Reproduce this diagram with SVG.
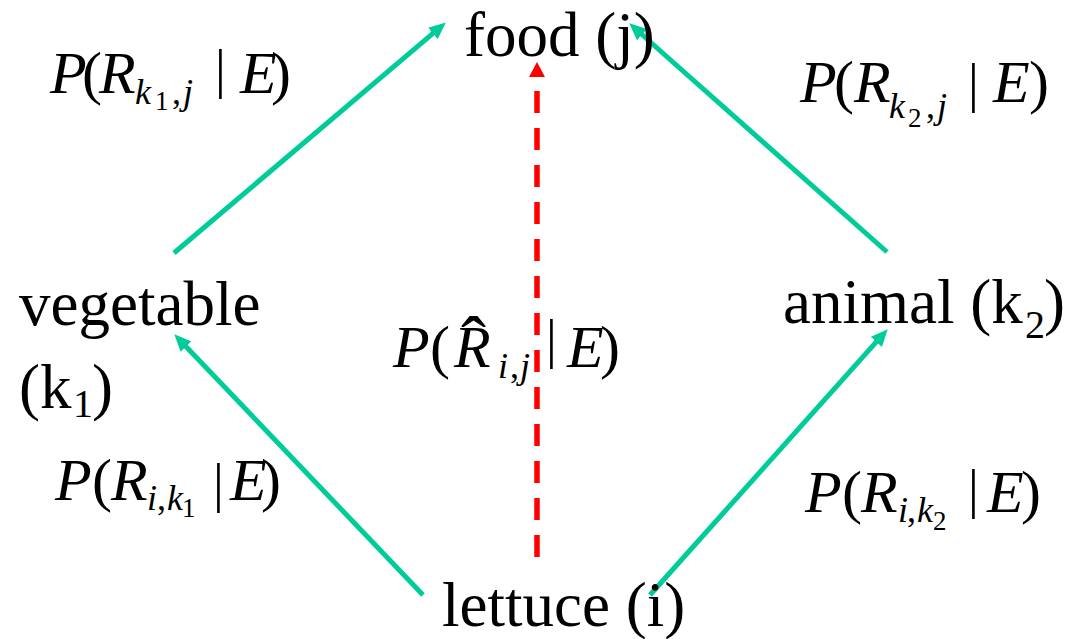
<svg xmlns="http://www.w3.org/2000/svg" width="1070" height="639" viewBox="0 0 1070 639">
  <style>
    text { font-family: "Liberation Serif", "Times New Roman", serif; fill: #000; }
    .node { font-size: 63px; }
    .m { font-size: 60px; }
    .i { font-style: italic; }
    .sub { font-size: 36px; font-style: italic; }
    .subsub { font-size: 27px; }
    .bar { font-size: 54px; }
    .g { stroke: #00CC99; stroke-width: 5; fill: none; }
    .r { stroke: #FF0000; stroke-width: 5.5; fill: none; stroke-dasharray: 22 15; }
  </style>
  <defs>
    <marker id="ag" markerUnits="userSpaceOnUse" markerWidth="17" markerHeight="15" viewBox="0 0 17 15" refX="4" refY="7.5" orient="auto">
      <path d="M0,0 L17,7.5 L0,15 z" fill="#00CC99"/>
    </marker>
    <marker id="ar" markerUnits="userSpaceOnUse" markerWidth="15" markerHeight="16" viewBox="0 0 15 16" refX="0" refY="8" orient="auto">
      <path d="M0,0 L15,8 L0,16 z" fill="#FF0000"/>
    </marker>
  </defs>

  <g id="connectors">
    <line class="g" x1="174" y1="253" x2="435.9" y2="30.8" marker-end="url(#ag)"/>
    <line class="g" x1="887" y1="252" x2="639" y2="32" marker-end="url(#ag)"/>
    <line class="g" x1="423" y1="595" x2="183.3" y2="343.7" marker-end="url(#ag)"/>
    <line class="g" x1="650" y1="595" x2="879" y2="338.9" marker-end="url(#ag)"/>
    <line class="r" x1="537" y1="557" x2="537" y2="77" marker-end="url(#ar)"/>
  </g>

  <g id="node-food">
    <text class="node" x="464" y="56">food (j)</text>
  </g>
  <g id="node-vegetable">
    <text class="node" x="19" y="325" font-size="64">vegetable</text>
    <text class="node" x="19" y="408" font-size="64">(k<tspan x="73" y="417" font-size="40">1</tspan><tspan x="92" y="408">)</tspan></text>
  </g>
  <g id="node-animal">
    <text class="node" x="783" y="323" font-size="64">animal (k<tspan x="1025" y="338" font-size="40">2</tspan><tspan x="1044" y="323">)</tspan></text>
  </g>
  <g id="node-lettuce">
    <text class="node" x="442" y="626">lettuce (i)</text>
  </g>

  <g id="label-k1-j">
    <text class="m" y="93"><tspan x="50" class="i">P</tspan><tspan x="82">(</tspan><tspan x="99" class="i">R</tspan></text>
    <text class="sub" y="104"><tspan x="135">k</tspan><tspan x="172" font-style="normal">,</tspan><tspan x="183">j</tspan></text>
    <text class="subsub" x="155" y="110">1</text>
    <text class="bar" x="215" y="87">|</text>
    <text class="m" y="93"><tspan x="240" class="i">E</tspan><tspan x="271">)</tspan></text>
  </g>

  <g id="label-k2-j">
    <text class="m" y="102"><tspan x="800" class="i">P</tspan><tspan x="834">(</tspan><tspan x="854" class="i">R</tspan></text>
    <text class="sub" y="118"><tspan x="889">k</tspan><tspan x="926" font-style="normal">,</tspan><tspan x="937">j</tspan></text>
    <text class="subsub" x="908" y="127">2</text>
    <text class="bar" x="968" y="101">|</text>
    <text class="m" y="102"><tspan x="993" class="i">E</tspan><tspan x="1029">)</tspan></text>
  </g>

  <g id="label-hat-i-j">
    <text class="m" y="367"><tspan x="393" class="i">P</tspan><tspan x="430">(</tspan><tspan x="454" class="i">R</tspan></text>
    <text x="461" y="368" font-size="75">ˆ</text>
    <text class="sub" y="378"><tspan x="498">i</tspan><tspan x="510" font-style="normal">,</tspan><tspan x="520">j</tspan></text>
    <text class="bar" x="546" y="357">|</text>
    <text class="m" y="367"><tspan x="567" class="i">E</tspan><tspan x="600">)</tspan></text>
  </g>

  <g id="label-i-k1">
    <text class="m" y="500"><tspan x="55" class="i">P</tspan><tspan x="92">(</tspan><tspan x="111" class="i">R</tspan></text>
    <text class="sub" y="510"><tspan x="147">i</tspan><tspan x="157" font-style="normal">,</tspan><tspan x="167">k</tspan></text>
    <text class="subsub" x="182" y="517">1</text>
    <text class="bar" x="213" y="501">|</text>
    <text class="m" y="500"><tspan x="230" class="i">E</tspan><tspan x="261">)</tspan></text>
  </g>

  <g id="label-i-k2">
    <text class="m" y="512"><tspan x="805" class="i">P</tspan><tspan x="842">(</tspan><tspan x="861" class="i">R</tspan></text>
    <text class="sub" y="522"><tspan x="898">i</tspan><tspan x="907" font-style="normal">,</tspan><tspan x="917">k</tspan></text>
    <text class="subsub" x="933" y="530">2</text>
    <text class="bar" x="968" y="507">|</text>
    <text class="m" y="512"><tspan x="987" class="i">E</tspan><tspan x="1021">)</tspan></text>
  </g>
</svg>
